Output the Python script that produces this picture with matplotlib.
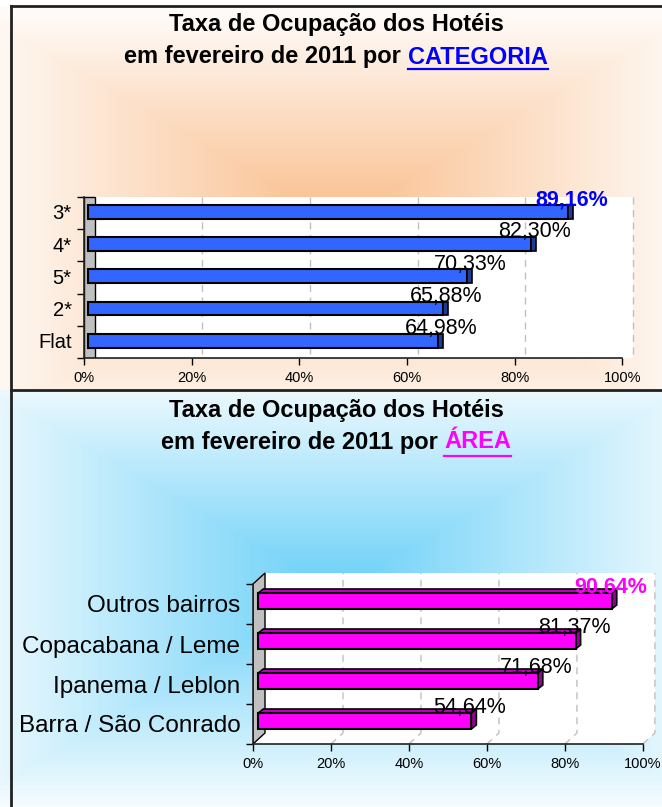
import numpy as np
import matplotlib
matplotlib.use("Agg")
import matplotlib.pyplot as plt
from matplotlib.patches import Polygon, Rectangle

plt.rcParams['font.family'] = ['Liberation Sans', 'DejaVu Sans']

W, H = 662, 807

# ---------------- data ----------------
cat_labels = ['3*', '4*', '5*', '2*', 'Flat']
cat_values = [89.16, 82.30, 70.33, 65.88, 64.98]
cat_text = ['89,16%', '82,30%', '70,33%', '65,88%', '64,98%']

area_labels = ['Outros bairros', 'Copacabana / Leme', 'Ipanema / Leblon', 'Barra / São Conrado']
area_values = [90.64, 81.37, 71.68, 54.64]
area_text = ['90,64%', '81,37%', '71,68%', '54,64%']

tick_vals = [0, 20, 40, 60, 80, 100]
tick_text = ['0%', '20%', '40%', '60%', '80%', '100%']

title1 = 'Taxa de Ocupação dos Hotéis'
title2_cat = ('em fevereiro de 2011 por', 'CATEGORIA')
title2_area = ('em fevereiro de 2011 por', 'ÁREA')


def px_rect(l, t, r, b):
    return [l / W, 1 - b / H, (r - l) / W, (b - t) / H]


def grad(h, w, cx, cy, rx, ry, col):
    yy, xx = np.mgrid[0:h, 0:w]
    t = np.maximum(np.abs(xx - cx) / rx, np.abs(yy - cy) / ry)
    t = np.clip(t, 0, 1)[..., None]
    c = np.array(col) / 255.0
    return c * (1 - t) + t


bg = np.ones((H, W, 3))
bg[6:390] = grad(384, W, 336, 214, 380, 220, (250, 190, 140))
bg[390:] = grad(H - 390, W, 336, 200, 400, 230, (105, 208, 248))

fig = plt.figure(figsize=(W / 100, H / 100), dpi=100)
bgax = fig.add_axes([0, 0, 1, 1], zorder=-10)
bgax.imshow(bg, aspect='auto', extent=(0, W, H, 0), interpolation='bilinear')
bgax.set_xlim(0, W)
bgax.set_ylim(H, 0)
bgax.axis('off')

# panel borders
bcol = '#222222'
bgax.plot([11, 11], [6, H], color=bcol, lw=2)
bgax.plot([11, W], [6, 6], color=bcol, lw=2)
bgax.plot([11, W], [390, 390], color=bcol, lw=2)

# ---------------- titles ----------------
renderer = fig.canvas.get_renderer()
TFS = 17


def draw_title(y1, y2, yul, parts, wcol):
    bgax.text(336, y1, title1, ha='center', va='center', fontsize=TFS,
              fontweight='bold', color='black')
    ta = bgax.text(0, y2, parts[0], ha='left', va='center', fontsize=TFS,
                   fontweight='bold', color='black')
    tb = bgax.text(0, y2, parts[1], ha='left', va='center', fontsize=TFS,
                   fontweight='bold', color=wcol)
    wa = ta.get_window_extent(renderer).width
    wb = tb.get_window_extent(renderer).width
    sp = 0.278 * TFS * 100 / 72
    total = wa + sp + wb
    x0 = 336 - total / 2
    ta.set_x(x0)
    tb.set_x(x0 + wa + sp)
    bgax.plot([x0 + wa + sp, x0 + total], [yul, yul], color=wcol, lw=1.6)


draw_title(24, 57, 69, title2_cat, '#0000FF')
draw_title(411, 442, 456, title2_area, '#FF00FF')

# ---------------- top chart (CATEGORIA) ----------------
ax1 = fig.add_axes(px_rect(84, 190, 640, 358))
ax1.patch.set_alpha(0)
ax1.set_xlim(0, 103.3)
floor1, top1 = 4.53, -0.465
ax1.set_ylim(floor1, -0.68)
D1 = 2.0

ax1.add_patch(Rectangle((D1, top1), 100, floor1 - top1, facecolor='white',
                        edgecolor='none', zorder=0))
for tv in tick_vals[1:]:
    ax1.plot([tv + D1] * 2, [top1, floor1], ls=(0, (5, 4)), color='#C0C0C0',
             lw=1, zorder=1)
ax1.add_patch(Rectangle((0, top1), D1, floor1 - top1, facecolor='#C0C0C0',
                        edgecolor='black', lw=1, zorder=2))

y1 = np.arange(len(cat_labels))
v1 = np.array(cat_values)
OX1 = 0.8
ax1.barh(y1, v1, left=OX1, height=0.43, color='#3366FF', edgecolor='black',
         lw=1.5, zorder=3)
ax1.barh(y1, np.full(len(v1), 0.9), left=v1 + OX1, height=0.43,
         color='#1F3A99', edgecolor='black', lw=1.2, zorder=3)

for i, (v, t) in enumerate(zip(cat_values, cat_text)):
    hl = (i == 0)
    ax1.text(v + 1.4, i - 0.38, t, ha='center', va='center', fontsize=15.5,
             color='#0000FF' if hl else 'black',
             fontweight='bold' if hl else 'normal', zorder=5, clip_on=False)

for s in ['top', 'right']:
    ax1.spines[s].set_visible(False)
for s in ['left', 'bottom']:
    ax1.spines[s].set_color('#222222')
    ax1.spines[s].set_linewidth(1.2)
ax1.spines['left'].set_bounds(top1, floor1)
ax1.spines['bottom'].set_bounds(0, 100)
ax1.set_xticks(tick_vals)
ax1.set_xticklabels(tick_text, fontsize=10.5)
ax1.tick_params(axis='x', length=5, width=1, pad=4, direction='out')
ax1.set_yticks(y1)
ax1.set_yticklabels(cat_labels, fontsize=14.5)
ax1.tick_params(axis='y', which='major', length=0, pad=9)
ax1.set_yticks(np.arange(top1, floor1 + 0.01, 1.0), minor=True)
ax1.tick_params(axis='y', which='minor', length=5, width=1, direction='out')

# ---------------- bottom chart (ÁREA) ----------------
ax2 = fig.add_axes(px_rect(253, 565, 662, 744))
ax2.patch.set_alpha(0)
ax2.set_xlim(0, 104.9)
fl, tp = 3.5, -0.5
ax2.set_ylim(fl, -0.975)
DX, DY = 3.08, 0.275

ax2.add_patch(Polygon([(DX, tp - DY), (100 + DX, tp - DY), (100 + DX, fl - DY),
                       (DX, fl - DY)], closed=True, facecolor='white',
                      edgecolor='none', zorder=0))
ax2.add_patch(Polygon([(0, fl), (100, fl), (100 + DX, fl - DY), (DX, fl - DY)],
                      closed=True, facecolor='white', edgecolor='none', zorder=0))
for tv in tick_vals[1:]:
    ax2.plot([tv, tv + DX, tv + DX], [fl, fl - DY, tp - DY], ls=(0, (5, 4)),
             color='#C0C0C0', lw=1, zorder=1)
ax2.add_patch(Polygon([(0, fl), (0, tp), (DX, tp - DY), (DX, fl - DY)],
                      closed=True, facecolor='#C0C0C0', edgecolor='black',
                      lw=1, zorder=2))

y2 = np.arange(len(area_labels))
OX2, BH, BX, BY = 1.35, 0.40, 1.3, 0.10
for i, v in enumerate(area_values):
    yc = i - 0.075
    yt, yb = yc - BH / 2, yc + BH / 2
    ax2.add_patch(Polygon([(OX2, yt), (v + OX2, yt), (v + OX2 + BX, yt - BY),
                           (OX2 + BX, yt - BY)], closed=True,
                          facecolor='#C000C0', edgecolor='black', lw=1.2, zorder=3))
    ax2.add_patch(Polygon([(v + OX2, yt), (v + OX2, yb), (v + OX2 + BX, yb - BY),
                           (v + OX2 + BX, yt - BY)], closed=True,
                          facecolor='#990099', edgecolor='black', lw=1.2, zorder=3))
ax2.barh(y2 - 0.075, area_values, left=OX2, height=BH, color='#FF00FF',
         edgecolor='black', lw=1.5, zorder=4)

for i, (v, t) in enumerate(zip(area_values, area_text)):
    hl = (i == 0)
    ax2.text(v + 1.0, i - 0.42, t, ha='center', va='center', fontsize=15.5,
             color='#FF00FF' if hl else 'black',
             fontweight='bold' if hl else 'normal', zorder=6, clip_on=False)

for s in ['top', 'right']:
    ax2.spines[s].set_visible(False)
for s in ['left', 'bottom']:
    ax2.spines[s].set_color('#222222')
    ax2.spines[s].set_linewidth(1.2)
ax2.spines['left'].set_bounds(tp, fl)
ax2.spines['bottom'].set_bounds(0, 100)
ax2.set_xticks(tick_vals)
ax2.set_xticklabels(tick_text, fontsize=10.5)
ax2.tick_params(axis='x', length=5, width=1, pad=4, direction='out')
ax2.set_yticks(y2)
ax2.set_yticklabels(area_labels, fontsize=17.5)
ax2.tick_params(axis='y', which='major', length=0, pad=9)
ax2.set_yticks(np.arange(tp, fl + 0.01, 1.0), minor=True)
ax2.tick_params(axis='y', which='minor', length=5, width=1, direction='out')

fig.savefig('out.png', dpi=100)
